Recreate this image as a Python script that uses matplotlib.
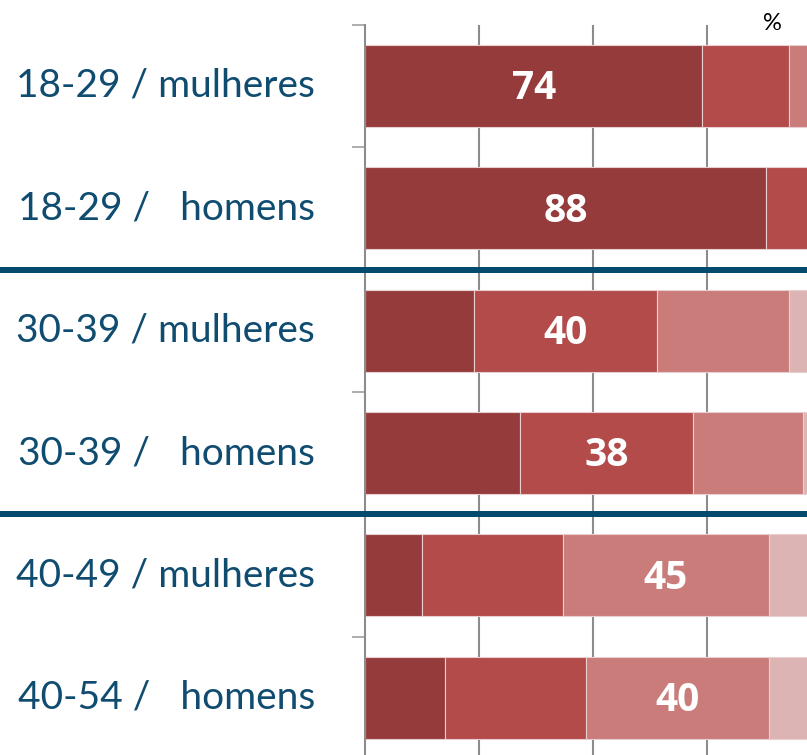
import matplotlib.pyplot as plt
import matplotlib.transforms as mtransforms
from matplotlib.lines import Line2D

categories = ["18-29 / mulheres", "18-29 /   homens",
              "30-39 / mulheres", "30-39 /   homens",
              "40-49 / mulheres", "40-54 /   homens"]
seg1 = [74, 88, 24, 34, 12.5, 17.5]
seg2 = [19, 12, 40, 38, 31, 31]
seg3 = [7, 0, 29, 24, 45, 40]
seg4 = [0, 0, 7, 4, 11.5, 11.5]

colors = ["#953b3b", "#b24b4a", "#ca7c7b", "#ddb4b4"]
navy = "#0f4c70"
grey = "#8c8c8c"

fig = plt.figure(figsize=(8.07, 7.55), dpi=100)
ax = fig.add_axes([365 / 807, 1 - 759 / 755, 1 - 365 / 807, (759 - 24.8) / 755])

rows = list(range(len(categories)))
left = [0] * len(categories)
segs = [seg1, seg2, seg3, seg4]
for vals, c in zip(segs, colors):
    ax.barh(rows, vals, left=left, height=0.67, color=c,
            edgecolor="#e9cfcf", linewidth=0.8, zorder=2)
    left = [l + v for l, v in zip(left, vals)]

# value label on the biggest segment of each bar
for i in rows:
    vals = [s[i] for s in segs]
    k = vals.index(max(vals))
    x0 = sum(vals[:k])
    ax.annotate(str(round(vals[k])), (x0 + vals[k] / 2, i), xytext=(0, -2),
                textcoords="offset points", ha="center", va="center",
                color="white", fontsize=28, fontweight="bold",
                family="Open Sans", zorder=3)

ax.set_xlim(0, 442 / 4.56)
ax.set_ylim(5.5, -0.5)

ax.set_xticks([25, 50, 75])
ax.xaxis.grid(True, color=grey, linewidth=1.5)
ax.set_axisbelow(True)
ax.tick_params(axis="x", length=0, labelbottom=False)

ax.set_yticks(rows)
ax.set_yticklabels(categories, fontsize=28, color=navy, family="Lato",
                   va="center")
ax.set_yticks([r - 0.5 for r in rows] + [5.5], minor=True)
ax.tick_params(axis="y", which="major", length=0, pad=36)
ax.tick_params(axis="y", which="minor", length=9.5, width=1.2, color="#a0a0a0")

for s in ["top", "right", "bottom"]:
    ax.spines[s].set_visible(False)
ax.spines["left"].set_color(grey)
ax.spines["left"].set_linewidth(1.5)

# group separators across the whole width
trans = mtransforms.blended_transform_factory(fig.transFigure, ax.transData)
for y in [1.5, 3.5]:
    ax.add_line(Line2D([0, 1], [y, y], transform=trans, color="#004a6e",
                       linewidth=4.3, clip_on=False, zorder=5))

fig.text(772 / 807, 1 - 24 / 755, "%", ha="center", va="center",
         fontsize=17, color="black", family="Lato")

fig.savefig("out.png", dpi=100)
